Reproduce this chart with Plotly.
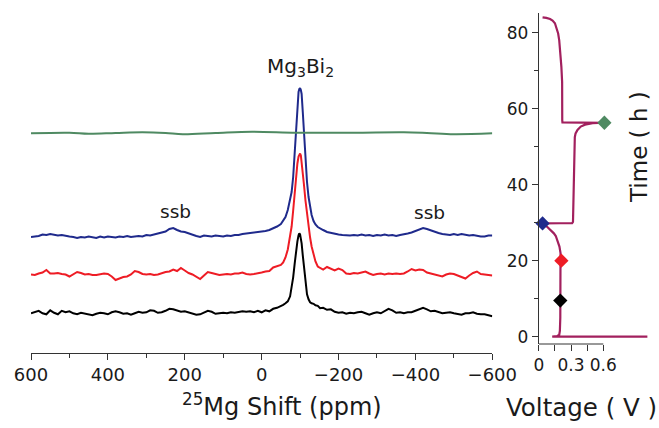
import plotly.graph_objects as go

W, H = 659, 428

# ---------------- NMR spectra (left panel) ----------------
left_ppm = list(range(600, 39, -10))          # 600 .. 40
peak_ppm = [30, 20, 10, 0, -10, -20, -30, -40, -50, -56, -62, -68, -74, -78, -82, -86,
            -90, -93, -96, -98, -100, -102, -104, -107, -110, -114, -118, -122, -126,
            -130, -135, -140, -146, -152, -160, -170, -180, -190, -200, -210, -220, -230]
right_ppm = list(range(-240, -601, -10))      # -240 .. -600
ppm = left_ppm + peak_ppm + right_ppm

blue_left = [0, 0.5, 1, 2.5, 2, 3, 2, 1.5, 2, 1,
             0.5, 0, -1, 0, -0.5, 0.5, 0, -1, 0.5, -0.5,
             0.5, 0, -0.5, 0.5, 0, 1, 0, 0.5, 1, 0.5,
             2, 1.5, 2.5, 3, 4, 5.5, 8, 9, 7, 5.5,
             5, 3.5, 2.5, 1, 0, 1.5, 1, 0.5, 1.5, 1,
             0.5, 1.5, 1, 2, 2, 3, 3.5]
blue_peak = [3.5, 4, 4.5, 5, 6, 7, 8.5, 10.5, 13, 16, 20, 27, 37, 45, 60, 83,
             112, 132, 145, 148, 149, 147, 143, 125, 103, 78, 55, 40, 30,
             22, 16, 12.5, 10, 8.5, 7, 5, 4, 3, 2.5, 2, 1.5, 1.5]
blue_right = [2, 1.5, 2.5, 1.5, 2, 1, 2, 1.5, 2.5, 1.5,
              2, 1, 2, 2.5, 3.5, 4.5, 6, 8, 9, 8,
              6.5, 5, 4, 3, 2.5, 2, 3, 2, 3, 2,
              1.5, 2, 1, 0.5, 0.5, 1.5, 1.5]

red_left = [0, -0.5, 1, 2, 4.5, 1, 1, 1.5, 0.5, 0,
            -2, 0, 2.5, 1.5, 0, 0.5, -0.5, -0.5, 0.5, 1,
            0.5, -2, -5.5, -4, -2.5, -2, 0, 3.5, 2.5, 0.5,
            0, 0.5, -0.5, 0, 1.5, 2.5, 3, 5, 3.5, 6.5,
            4, 1.5, 0, -2.5, -4.5, -1, 2.5, 1.5, 0.5, -0.5,
            0, 0.5, 0, 1, 1, 2, 0.5]
red_peak = [0, 0.5, 1, 2, 3, 3.5, 7, 8, 9.5, 12, 17, 25, 38, 48, 64, 83,
            100, 111, 118, 120.5, 121, 119, 113, 100, 90, 74, 60, 48, 37,
            28, 20, 13, 8, 6.5, 5, 7.5, 5.5, 4, 6, 4.5, 1, 0.5]
red_right = [1.5, 1, 2, 3, 1, -0.5, 0.5, 1, 0, 1,
             0.5, 1, 0.5, 1, 3, 5.5, 4, 5, 4.5, 2,
             1, 0, -1, -2, 0, 1, 0.5, -1, -2, -4,
             -1, 1.5, 3, 0.5, 0, -0.5, -1]

black_left = [0, 1.5, 2.5, 0, -1, 3, 0.5, -1, 2.5, 1,
              2, 0, -1, 0.5, -0.5, -1, -2, -0.5, 0.5, 0,
              -1, 1, 2, 1, -0.5, 0, -1.5, 0, 1.5, 0.5,
              1, 3, 2.5, 0.5, 1, 2.5, 4.5, 4, 2.5, 1.5,
              2, 1, 0, -1.5, -1, 1, 2.5, 1.5, -0.5, 0,
              0.5, 0, 1, 0.5, 1.5, 2, 1.5]
black_peak = [2, 1, 2.5, 1, 3, 2, 4.5, 5.5, 7, 8.5, 10, 12, 17, 25, 36, 50,
              64, 72, 78, 80, 79, 76, 70, 58, 45, 30, 19, 14, 11,
              10, 9.5, 8, 7.5, 5, 5.5, 3.5, 4, 1.5, 0.5, 1, -0.5, 0.5]
black_right = [0, 1, 1.5, 0, -1.5, 0, 1, 0, 2, 4.5,
               3, 0.5, 1, 0, 1, 1, 2.5, 4, 5.5, 4,
               2, 2.5, 1, 0, 0.5, 1, 0, -1, -1.5, 0,
               0, 1, -0.5, -1, -1, -2, -3]

green_ppm = [600, 500, 450, 380, 310, 250, 205, 120, 25, -90, -240, -370, -430, -500, -600]
green_int = [-0.3, 0.3, -0.8, 0, 0.7, 0, -1.2, 0, 1.3, 0.3, 0.3, 0.7, 0, -1.2, -0.3]

blue_int = blue_left + blue_peak + blue_right
red_int = red_left + red_peak + red_right
black_int = black_left + black_peak + black_right

# vertical stacking offsets of the spectra
offset_black, offset_red, offset_blue, offset_green = 39.4, 78.2, 115.7, 219.7

x_ticks = [600, 400, 200, 0, -200, -400, -600]

# ---------------- electrochemistry (right panel) ----------------
time_h = [0.0, 0.0, 0.15, 0.5, 1.5, 5, 10, 15, 20, 22, 23.7, 25.4, 26.5, 27.2, 28.0,
          28.5, 29.0, 29.4, 29.8,
          29.85, 29.9, 30.2, 33, 38, 44, 49, 51, 52.5, 53.5, 54.4, 55.3, 55.8, 56.2, 56.3,
          56.35, 56.4, 57, 62, 67, 71, 75.4, 78, 79.8, 81.3, 82.5, 83.2, 83.6, 83.9, 84.05]
voltage_V = [1.01, 0.125, 0.17, 0.19, 0.196, 0.2, 0.202, 0.204, 0.205, 0.202, 0.192, 0.175,
             0.158, 0.14, 0.115, 0.095, 0.075, 0.055, 0.038,
             0.2, 0.31, 0.318, 0.32, 0.322, 0.325, 0.327, 0.33, 0.335, 0.342, 0.36, 0.39,
             0.43, 0.5, 0.61,
             0.4, 0.22, 0.218, 0.22, 0.217, 0.21, 0.2, 0.19, 0.18, 0.165, 0.15, 0.128,
             0.105, 0.07, 0.035]

marker_time = [9.5, 20, 29.8, 56.3]
marker_volt = [0.2, 0.21, 0.035, 0.61]
marker_colors = ["#000000", "#EE1C25", "#1F2A8C", "#4F8A62"]

v_ticks = [0, 0.15, 0.3, 0.45, 0.6]
v_ticktext = ["0", "", "0.3", "", "0.6"]

# ---------------- figure ----------------
FONT = "DejaVu Sans"
AX = "#333333"

fig = go.Figure()

spectra = [
    (blue_int, offset_blue, "#1F2A8C"),
    (red_int, offset_red, "#EE1C25"),
    (black_int, offset_black, "#000000"),
]
for vals, off, col in spectra:
    fig.add_trace(go.Scatter(x=ppm, y=[v + off for v in vals], mode="lines",
                             line=dict(color=col, width=2), xaxis="x", yaxis="y",
                             showlegend=False, hoverinfo="skip"))
fig.add_trace(go.Scatter(x=green_ppm, y=[v + offset_green for v in green_int], mode="lines",
                         line=dict(color="#4F8A62", width=2, shape="spline"),
                         xaxis="x", yaxis="y", showlegend=False, hoverinfo="skip"))

fig.add_trace(go.Scatter(x=voltage_V, y=time_h, mode="lines",
                         line=dict(color="#A2205E", width=2.2),
                         xaxis="x2", yaxis="y2", showlegend=False, hoverinfo="skip"))
fig.add_trace(go.Scatter(x=marker_volt, y=marker_time, mode="markers",
                         marker=dict(symbol="diamond", size=11, color=marker_colors),
                         cliponaxis=False, xaxis="x2", yaxis="y2",
                         showlegend=False, hoverinfo="skip"))

def px_x(p):
    return p / W

def px_y(p):
    return (H - p) / H

# left panel axes
left_x0, left_x1 = 31, 492.3
left_y_bottom, left_y_top = 352.7, 30
# right panel axes
r_x0, r_x1 = 538.8, 650
r_px_per_v = (603.3 - 538.8) / 0.6
r_y_bottom, r_y_top = 344, 13.3
r_px_per_h = 3.8
t_zero_px = 336.7

fig.update_layout(
    template="none",
    width=W, height=H,
    margin=dict(l=0, r=0, t=0, b=0, pad=0, autoexpand=False),
    paper_bgcolor="white", plot_bgcolor="white",
    font=dict(family=FONT, size=18, color="#1a1a1a"),
    xaxis=dict(domain=[px_x(left_x0), px_x(left_x1)], range=[600, -600], automargin=False,
               tickvals=x_ticks, ticks="outside", ticklen=6, tickwidth=1, tickcolor=AX,
               minor=dict(dtick=100, tick0=0, ticks="outside", ticklen=4, tickcolor=AX),
               showline=True, linecolor=AX, linewidth=1, showgrid=False, zeroline=False,
               tickfont=dict(size=18), anchor="y"),
    yaxis=dict(domain=[px_y(left_y_bottom), px_y(left_y_top)], automargin=False,
               range=[0, left_y_bottom - left_y_top], visible=False, anchor="x"),
    xaxis2=dict(domain=[px_x(r_x0), px_x(r_x1)], automargin=False,
                range=[0, (r_x1 - r_x0) / r_px_per_v],
                tickvals=v_ticks, ticktext=v_ticktext, ticks="outside", ticklen=6,
                tickwidth=1, tickcolor=AX, showline=False, showgrid=False, zeroline=False,
                tickfont=dict(size=17), anchor="y2"),
    yaxis2=dict(domain=[px_y(r_y_bottom), px_y(r_y_top)], automargin=False,
                range=[(t_zero_px - r_y_bottom) / r_px_per_h, (t_zero_px - r_y_top) / r_px_per_h],
                tickvals=[0, 20, 40, 60, 80], ticks="outside", ticklen=6, tickwidth=1,
                tickcolor=AX,
                minor=dict(dtick=10, tick0=0, ticks="outside", ticklen=4, tickcolor=AX),
                showline=True, linecolor=AX, linewidth=1, showgrid=False, zeroline=False,
                tickfont=dict(size=17), anchor="x2"),
)

# short bottom axis line for the voltage axis (0 to 0.6 V)
fig.add_shape(type="line", xref="x2", yref="y2 domain", x0=0, x1=0.6, y0=0, y1=0,
              line=dict(color=AX, width=1))

annos = [
    dict(text="<sup>25</sup>Mg Shift (ppm)", x=px_x(282), y=px_y(405), size=24, angle=0),
    dict(text="Voltage ( V )", x=px_x(581), y=px_y(407), size=24.5, angle=0),
    dict(text="Time ( h )", x=px_x(639), y=px_y(147), size=23, angle=-90),
    dict(text="Mg<sub>3</sub>Bi<sub>2</sub>", x=px_x(300), y=px_y(67), size=20, angle=0),
    dict(text="ssb", x=px_x(175), y=px_y(211), size=18.5, angle=0),
    dict(text="ssb", x=px_x(429), y=px_y(212), size=18.5, angle=0),
]
for a in annos:
    fig.add_annotation(text=a["text"], x=a["x"], y=a["y"], xref="paper", yref="paper",
                       showarrow=False, xanchor="center", yanchor="middle",
                       textangle=a["angle"], font=dict(family=FONT, size=a["size"], color="#1a1a1a"))

fig.write_html("out.html", config={"displayModeBar": False},
               post_script="document.body.style.margin='0';document.body.style.overflow='hidden';")
